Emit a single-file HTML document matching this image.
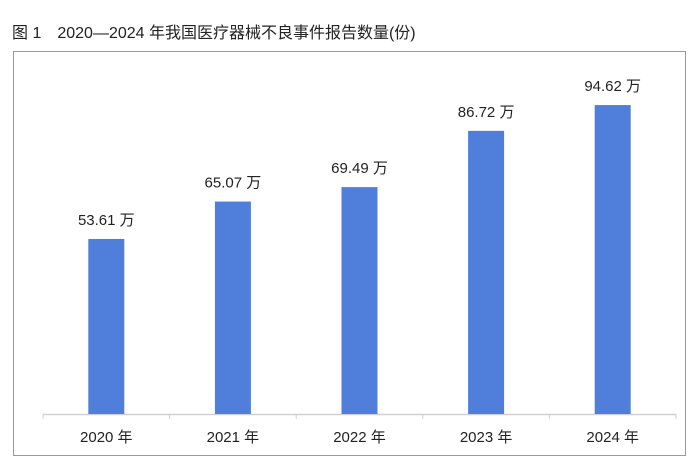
<!DOCTYPE html>
<html><head><meta charset="utf-8"><style>
body{margin:0;background:#fff;width:698px;height:469px;overflow:hidden;font-family:"Liberation Sans","Noto Sans CJK SC",sans-serif}
</style></head><body>
<svg width="698" height="469" style="position:absolute;left:0;top:0">
<text x="12" y="38" font-size="16" fill="#222" font-family="Liberation Sans,Noto Sans CJK SC,sans-serif">图 1　2020—2024 年我国医疗器械不良事件报告数量(份)</text>
<rect x="13.5" y="51.5" width="672" height="404" fill="none" stroke="#999" stroke-width="1"/>
<g id="g"></g>
</svg>
<script>
const categories=["2020 年","2021 年","2022 年","2023 年","2024 年"];
const values=[53.61,65.07,69.49,86.72,94.62];
const valueLabels=["53.61 万","65.07 万","69.49 万","86.72 万","94.62 万"];
const ns="http://www.w3.org/2000/svg",g=document.getElementById('g');
const x0=43,step=126.6,base=414,k=3.265,bw=36;
const xs=i=>x0+step*(i+0.5), ys=v=>base-v*k;
function mk(t,a){const e=document.createElementNS(ns,t);for(const q in a)e.setAttribute(q,a[q]);g.appendChild(e);return e;}
const ax=mk('line',{x1:x0,x2:x0+step*5,y1:base+0.5,y2:base+0.5,stroke:'#d0d0d0','stroke-width':1.5});


for(let i=0;i<=5;i++){const t=mk('line',{x1:x0+step*i,x2:x0+step*i,y1:base,y2:base+5,stroke:'#d0d0d0','stroke-width':1});

}
categories.forEach((c,i)=>{
const b=mk('rect',{x:xs(i)-bw/2,y:ys(values[i]),width:bw,height:base-ys(values[i]),fill:'#4f7fda'});


const l=mk('text',{x:xs(i),y:ys(values[i])-14,'text-anchor':'middle','font-size':15,fill:'#222'});l.textContent=valueLabels[i];


const xl=mk('text',{x:xs(i),y:442,'text-anchor':'middle','font-size':15,fill:'#222'});xl.textContent=c;


});
</script>
</body></html>
